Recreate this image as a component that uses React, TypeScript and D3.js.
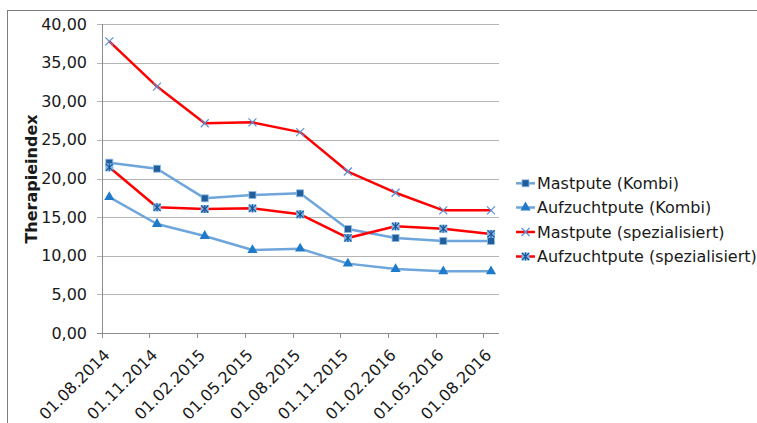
import * as d3 from "d3";

const dates = [
  "01.08.2014", "01.11.2014", "01.02.2015", "01.05.2015", "01.08.2015",
  "01.11.2015", "01.02.2016", "01.05.2016", "01.08.2016",
];
const mastKombi = [22.05, 21.27, 17.43, 17.86, 18.08, 13.46, 12.3, 11.91, 11.91];
const aufzuchtKombi = [17.6, 14.11, 12.56, 10.74, 10.92, 8.98, 8.28, 7.98, 7.98];
const mastSpez = [37.76, 31.9, 27.15, 27.27, 26.0, 20.9, 18.16, 15.88, 15.88];
const aufzuchtSpez = [21.45, 16.27, 16.05, 16.14, 15.36, 12.3, 13.81, 13.5, 12.82];
const yTicks = [0, 5, 10, 15, 20, 25, 30, 35, 40];

type Marker = "square" | "triangle" | "x" | "star";

const series: { name: string; values: number[]; color: string; marker: Marker }[] = [
  { name: "Mastpute (Kombi)", values: mastKombi, color: "#6ea5da", marker: "square" },
  { name: "Aufzuchtpute (Kombi)", values: aufzuchtKombi, color: "#6ea5da", marker: "triangle" },
  { name: "Mastpute (spezialisiert)", values: mastSpez, color: "#ff0000", marker: "x" },
  { name: "Aufzuchtpute (spezialisiert)", values: aufzuchtSpez, color: "#ff0000", marker: "star" },
];

const font = "'DejaVu Sans', Verdana, sans-serif";

function MarkerShape({ type, x, y }: { type: Marker; x: number; y: number }) {
  if (type === "square") {
    return <rect x={x - 3.5} y={y - 3.5} width={7} height={7} fill="#215e9c" stroke="#8dbbe6" strokeWidth={0.8} />;
  }
  if (type === "triangle") {
    const tri = d3.symbol().type(d3.symbolTriangle).size(45)();
    return <path d={tri!} transform={`translate(${x},${y})`} fill="#1f7bc9" />;
  }
  if (type === "x") {
    return (
      <g stroke="#5b8fd0" strokeWidth={1.2}>
        <line x1={x - 4} y1={y - 4} x2={x + 4} y2={y + 4} />
        <line x1={x - 4} y1={y + 4} x2={x + 4} y2={y - 4} />
      </g>
    );
  }
  return (
    <g>
      <rect x={x - 4} y={y - 4} width={8} height={8} fill="#7ab6ea" />
      <g stroke="#1c4f8e" strokeWidth={1.1}>
        <line x1={x - 3.5} y1={y - 3.5} x2={x + 3.5} y2={y + 3.5} />
        <line x1={x - 3.5} y1={y + 3.5} x2={x + 3.5} y2={y - 3.5} />
        <line x1={x} y1={y - 4} x2={x} y2={y + 4} />
      </g>
    </g>
  );
}

export default function App() {
  const plotLeft = 102;
  const plotRight = 499;
  const y = d3.scaleLinear().domain([0, 40]).range([333, 24]);
  const x = d3.scaleLinear().domain([0, dates.length - 1]).range([109.3, 491]);
  const tickOffset = -7.6;
  const line = d3
    .line<number>()
    .x((_, i) => x(i))
    .y((d) => y(d));

  const legendY = [183.3, 207.5, 232, 256.5];

  return (
    <svg width={757} height={423} style={{ position: "absolute", left: 0, top: 0, fontFamily: font }}>
      <rect x={0} y={0} width={757} height={423} fill="#fff" />
      <rect x={7.5} y={10.5} width={800} height={500} fill="none" stroke="#7f7f7f" strokeWidth={1} />

      {/* gridlines */}
      {yTicks.slice(1).map((t) => (
        <line key={t} x1={plotLeft - 5} x2={plotRight} y1={Math.round(y(t)) + 0.5} y2={Math.round(y(t)) + 0.5} stroke="#b4b4b4" />
      ))}
      {/* axes */}
      <line x1={plotLeft + 0.5} x2={plotLeft + 0.5} y1={y(40)} y2={y(0)} stroke="#8c8c8c" />
      <line x1={plotLeft - 5} x2={plotRight} y1={Math.round(y(0)) + 0.5} y2={Math.round(y(0)) + 0.5} stroke="#8c8c8c" />
      {dates.map((d, i) => (
        <line key={d} x1={Math.round(x(i) + tickOffset) + 0.5} x2={Math.round(x(i) + tickOffset) + 0.5} y1={y(0)} y2={y(0) + 5} stroke="#8c8c8c" />
      ))}

      {/* y labels */}
      {yTicks.map((t) => (
        <text key={t} x={87} y={y(t)} textAnchor="end" dominantBaseline="central" fontSize={16} fill="#1a1a1a">
          {t.toFixed(2).replace(".", ",")}
        </text>
      ))}
      <text
        transform={`translate(37,179) rotate(-90)`}
        textAnchor="middle"
        fontSize={16}
        fontWeight="bold"
        fill="#1a1a1a"
      >
        Therapieindex
      </text>

      {/* x labels */}
      {dates.map((d, i) => (
        <text
          key={d}
          transform={`translate(${x(i) + tickOffset + 9},356) rotate(-45)`}
          textAnchor="end"
          fontSize={16}
          fill="#1a1a1a"
        >
          {d}
        </text>
      ))}

      {/* series */}
      {series.map((s) => (
        <g key={s.name}>
          <path d={line(s.values)!} fill="none" stroke={s.color} strokeWidth={2.5} strokeLinejoin="round" />
          {s.values.map((v, i) => (
            <MarkerShape key={i} type={s.marker} x={x(i)} y={y(v)} />
          ))}
        </g>
      ))}

      {/* legend */}
      {series.map((s, i) => (
        <g key={s.name}>
          <line x1={516} x2={535} y1={legendY[i]} y2={legendY[i]} stroke={s.color} strokeWidth={2.5} />
          <MarkerShape type={s.marker} x={525.5} y={legendY[i]} />
          <text x={537} y={legendY[i]} dominantBaseline="central" fontSize={16} fill="#1a1a1a">
            {s.name}
          </text>
        </g>
      ))}
    </svg>
  );
}
